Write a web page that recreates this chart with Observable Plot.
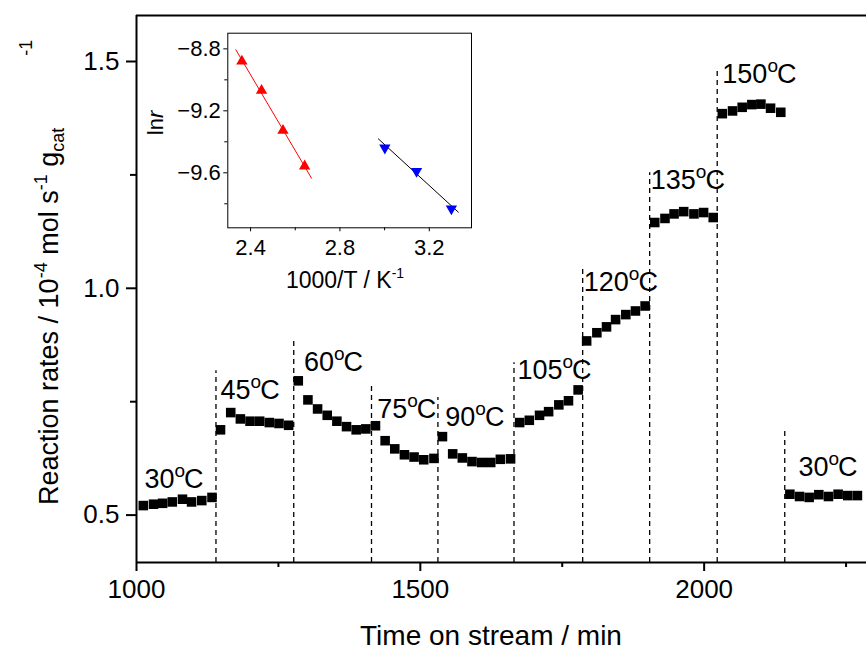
<!DOCTYPE html>
<html><head><meta charset="utf-8">
<script src="https://cdn.jsdelivr.net/npm/d3@7"></script>
<script src="https://cdn.jsdelivr.net/npm/@observablehq/plot@0.6"></script>
<style>
body{margin:0;background:#fff;}
#wrap{position:relative;width:866px;height:654px;overflow:hidden;background:#fff;}
#wrap svg{position:absolute;}
</style></head><body><div id="wrap"></div>
<script>
// ---- main chart data ----
const timeMin = [1012,1030,1046,1063,1081,1097,1115,1133,
  1148,1166,1183,1200,1217,1234,1251,1268,
  1285,1302,1319,1336,1353,1370,1387,1404,
  1421,1438,1455,1472,1489,1506,1524,
  1539,1557,1574,1591,1608,1624,1641,1659,
  1675,1692,1710,1726,1744,1761,1778,
  1793,1811,1828,1844,1862,1879,1896,
  1913,1931,1947,1964,1982,1999,2016,
  2032,2050,2067,2084,2100,2117,2135,
  2151,2168,2185,2202,2219,2236,2253,2270];
const rate = [0.521,0.524,0.526,0.529,0.535,0.529,0.532,0.539,
  0.688,0.726,0.712,0.707,0.707,0.704,0.702,0.698,
  0.796,0.754,0.734,0.720,0.707,0.695,0.688,0.690,
  0.697,0.664,0.646,0.633,0.628,0.622,0.625,
  0.673,0.635,0.626,0.618,0.616,0.616,0.623,0.624,
  0.704,0.709,0.720,0.728,0.743,0.752,0.776,
  0.884,0.902,0.915,0.931,0.942,0.950,0.961,
  1.145,1.154,1.164,1.169,1.164,1.167,1.156,
  1.385,1.391,1.399,1.405,1.406,1.397,1.388,
  0.546,0.541,0.539,0.545,0.541,0.546,0.543,0.543];
const stepTime = [1140,1277,1414,1531,1665,1786,1904,2023,2142];
const stepTop = [0.818,0.884,0.785,0.759,0.836,1.042,1.255,1.483,0.690];
const labelTemp = ["30","45","60","75","90","105","120","135","150","30"];
const labelTime = [1014,1148,1295,1424,1544,1671,1788,1906,2032,2166];
const labelRate = [0.560,0.756,0.818,0.715,0.697,0.800,0.994,1.219,1.452,0.587];
const xMajor = [1000,1500,2000], xMinor = [1250,1750,2250];
const yMajor = [0.5,1.0,1.5], yMinor = [0.75,1.25];
const X0 = 1000, X1 = 2286, Y0 = 0.3955, Y1 = 1.6014;

// ---- inset data ----
const invTHigh = [2.361,2.449,2.545,2.642], lnrHigh = [-8.880,-9.069,-9.327,-9.557];
const invTLow = [3.001,3.143,3.299], lnrLow = [-9.439,-9.590,-9.832];
const fitHighX = [2.334,2.673], fitHighY = [-8.806,-9.635];
const fitLowX = [2.972,3.330], fitLowY = [-9.381,-9.854];
const insetXMajor = [2.4,2.8,3.2], insetXMinor = [2.6,3.0];
const insetYMajor = [-8.8,-9.2,-9.6], insetYMinor = [-9.0,-9.4,-9.8];
const IX0 = 2.298, IX1 = 3.389, IY0 = -9.955, IY1 = -8.699;

const FONT = "'Liberation Sans', Arial, Helvetica, sans-serif";
const wrap = document.getElementById("wrap");

const pts = timeMin.map((t,i)=>({t, r: rate[i]}));
const steps = stepTime.map((t,i)=>({t, top: stepTop[i]}));
const labels = labelTemp.map((s,i)=>({s, t: labelTime[i], r: labelRate[i]}));

const main = Plot.plot({
  width: 866, height: 654,
  marginLeft: 136, marginRight: 0, marginTop: 15, marginBottom: 92,
  x: {domain: [X0, X1]},
  y: {domain: [Y0, Y1]},
  style: {fontFamily: FONT, fontSize: "26px", color: "#000", background: "transparent", overflow: "visible"},
  marks: [
    Plot.ruleX(steps, {x: "t", y1: Y0, y2: "top", stroke: "#000", strokeWidth: 1.3, strokeDasharray: "5,4"}),
    Plot.dot(pts, {x: "t", y: "r", symbol: "square", r: 5.4, fill: "#000", stroke: "none"}),
    Plot.text(labels, {x: "t", y: "r", text: "s", textAnchor: "start", lineAnchor: "bottom", fontSize: 27, fill: "#000"}),
    Plot.axisX({ticks: xMajor, tickSize: 9, tickPadding: 8, strokeWidth: 2, tickFormat: d => String(d), label: null}),
    Plot.axisX({ticks: xMinor, tickSize: 5, strokeWidth: 2, tickFormat: () => "", fill: "none", label: null}),
    Plot.axisY({ticks: yMajor, tickSize: 10, tickPadding: 7, strokeWidth: 2, tickFormat: d3.format(".1f"), label: null}),
    Plot.axisY({ticks: yMinor, tickSize: 6, strokeWidth: 2, tickFormat: () => "", fill: "none", label: null}),
    Plot.ruleY([Y0], {stroke: "#000", strokeWidth: 2}),
    Plot.ruleY([Y1], {stroke: "#000", strokeWidth: 2}),
    Plot.ruleX([X0], {stroke: "#000", strokeWidth: 2})
  ]
});
main.style.left = "0px"; main.style.top = "0px";
wrap.appendChild(main);

// superscript "o" in temperature labels
d3.select(main).selectAll('g[aria-label="text"] text').each(function() {
  const sel = d3.select(this);
  sel.append("tspan").attr("font-size", 19).attr("dy", -11).text("o");
  sel.append("tspan").attr("dy", 11).attr("dx", -1).text("C");
});

// axis titles
const ms = d3.select(main);
ms.append("text").attr("x", 491).attr("y", 645).attr("text-anchor", "middle")
  .attr("font-size", 28).attr("fill", "#000").text("Time on stream / min");
const yt = ms.append("text").attr("transform", "translate(58,505) rotate(-90)")
  .attr("text-anchor", "start").attr("font-size", 27).attr("fill", "#000");
yt.append("tspan").text("Reaction rates / 10");
yt.append("tspan").attr("font-size", 18).attr("dy", -11).text("-4");
yt.append("tspan").attr("dy", 11).text("\u00a0mol s");
yt.append("tspan").attr("font-size", 18).attr("dy", -11).text("-1");
yt.append("tspan").attr("dy", 11).text("\u00a0g");
yt.append("tspan").attr("font-size", 18).attr("dy", 6).text("cat");
yt.append("tspan").attr("font-size", 18).attr("dy", -32).attr("dx", 72).text("-1");

// ---- inset ----
const high = invTHigh.map((x,i)=>({x, y: lnrHigh[i]}));
const low = invTLow.map((x,i)=>({x, y: lnrLow[i]}));
const fitH = fitHighX.map((x,i)=>({x, y: fitHighY[i]}));
const fitL = fitLowX.map((x,i)=>({x, y: fitLowY[i]}));

const inset = Plot.plot({
  width: 340, height: 275,
  marginLeft: 87.3, marginRight: 9, marginTop: 7.7, marginBottom: 72.7,
  x: {domain: [IX0, IX1]},
  y: {domain: [IY0, IY1]},
  style: {fontFamily: FONT, fontSize: "22px", color: "#000", background: "transparent", overflow: "visible"},
  marks: [
    Plot.frame({stroke: "#000", strokeWidth: 1, fill: "#fff"}),
    Plot.line(fitH, {x: "x", y: "y", stroke: "#ff0000", strokeWidth: 1}),
    Plot.line(fitL, {x: "x", y: "y", stroke: "#000", strokeWidth: 1}),
    Plot.dot(high, {x: "x", y: "y", symbol: "triangle", r: 4.2, fill: "#ff0000", stroke: "none"}),
    Plot.dot(low, {x: "x", y: "y", symbol: "triangle", rotate: 180, r: 4.2, fill: "#0000ff", stroke: "none"}),
    Plot.axisX({ticks: insetXMajor, tickSize: 4, tickPadding: 8, tickFormat: d3.format(".1f"), label: null}),
    Plot.axisX({ticks: insetXMinor, tickSize: 3, tickFormat: () => "", fill: "none", label: null}),
    Plot.axisY({ticks: insetYMajor, tickSize: 4, tickPadding: 3, tickFormat: d3.format(".1f"), label: null}),
    Plot.axisY({ticks: insetYMinor, tickSize: 3, tickFormat: () => "", fill: "none", label: null})
  ]
});
inset.style.left = "140px"; inset.style.top = "25px";
wrap.appendChild(inset);

const is = d3.select(inset);
const xl = is.append("text").attr("x", 205).attr("y", 263).attr("text-anchor", "middle")
  .attr("font-size", 23).attr("fill", "#000");
xl.append("tspan").text("1000/T / K");
xl.append("tspan").attr("font-size", 14).attr("dy", -10).text("-1");
const yl = is.append("text").attr("transform", "translate(23,98) rotate(-90)")
  .attr("text-anchor", "middle").attr("font-size", 22).attr("fill", "#000");
yl.append("tspan").text("ln");
yl.append("tspan").attr("font-style", "italic").text("r");
</script></body></html>
